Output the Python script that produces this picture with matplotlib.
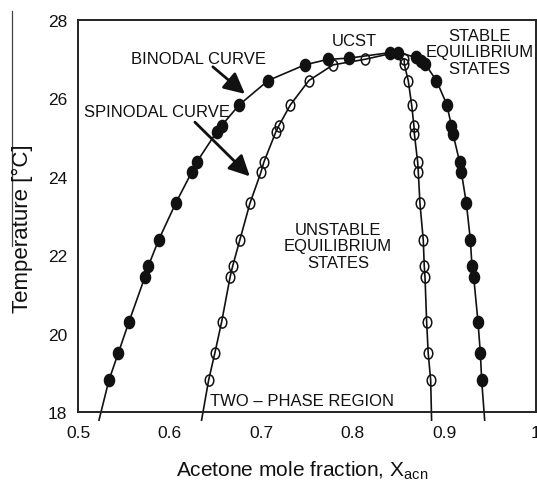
import matplotlib
matplotlib.use("Agg")
import matplotlib.pyplot as plt
import numpy as np
from matplotlib.lines import Line2D
from matplotlib.path import Path

plt.rcParams["font.family"] = ["Liberation Sans", "DejaVu Sans"]
plt.rcParams["mathtext.fontset"] = "custom"
plt.rcParams["mathtext.rm"] = "Liberation Sans"
plt.rcParams["mathtext.it"] = "Liberation Sans"

# binodal (filled) points
binodal_left_x = [0.5335, 0.5437, 0.5553, 0.5728, 0.5764, 0.5878, 0.6063, 0.6238, 0.6293,
                  0.6511, 0.6565, 0.6758, 0.7074, 0.7475, 0.7729, 0.7955, 0.8403, 0.8493]
binodal_left_T = [18.82, 19.51, 20.30, 21.45, 21.72, 22.39, 23.32, 24.11, 24.37,
                  25.14, 25.30, 25.83, 26.45, 26.85, 26.99, 27.02, 27.16, 27.16]
binodal_right_x = [0.8694, 0.8749, 0.8793, 0.8913, 0.9028, 0.9076, 0.9094, 0.9167, 0.9186,
                   0.9240, 0.9284, 0.9301, 0.9320, 0.9367, 0.9393, 0.9407]
binodal_right_T = [27.04, 26.96, 26.86, 26.45, 25.83, 25.30, 25.09, 24.37, 24.11,
                   23.32, 22.39, 21.72, 21.45, 20.30, 19.51, 18.82]

# spinodal (open) points
spinodal_left_x = [0.6424, 0.6492, 0.6566, 0.6659, 0.6686, 0.6765, 0.6875, 0.6995, 0.7027,
                   0.7158, 0.7191, 0.7317, 0.7519, 0.7784, 0.8130]
spinodal_left_T = [18.82, 19.51, 20.30, 21.45, 21.72, 22.39, 23.32, 24.11, 24.37,
                   25.14, 25.30, 25.83, 26.45, 26.85, 26.99]
spinodal_right_x = [0.8562, 0.8562, 0.8605, 0.8642, 0.8667, 0.8672, 0.8708, 0.8715, 0.8733,
                    0.8769, 0.8780, 0.8788, 0.8806, 0.8823, 0.8850]
spinodal_right_T = [26.99, 26.86, 26.45, 25.83, 25.30, 25.09, 24.37, 24.11, 23.32,
                    22.39, 21.72, 21.45, 20.30, 19.51, 18.82]

# where the fitted curves run out (below the axis) and where the spinodal meets the top
binodal_ends_x = [0.5226, 0.944]
binodal_ends_T = [17.8, 17.8]
spinodal_ends_x = [0.6347, 0.886]
spinodal_ends_T = [17.8, 17.8]
ucst_x, ucst_T = 0.842, 27.14

xticks = [0.5, 0.6, 0.7, 0.8, 0.9, 1.0]
xtick_labels = ["0.5", "0.6", "0.7", "0.8", "0.9", "1"]
yticks = [18, 20, 22, 24, 26, 28]


def ellipse_marker(ratio):
    c = Path.unit_circle()
    return Path(c.vertices * np.array([ratio, 1.0]), c.codes)


fig = plt.figure(figsize=(5.37, 4.81), dpi=100)
ax = fig.add_axes([0.1458, 0.1407, 0.8522, 0.8163])

ink = "#111111"
bin_line_x = [binodal_ends_x[0]] + binodal_left_x + binodal_right_x + [binodal_ends_x[1]]
bin_line_T = [binodal_ends_T[0]] + binodal_left_T + binodal_right_T + [binodal_ends_T[1]]
spi_line_x = [spinodal_ends_x[0]] + spinodal_left_x + [ucst_x] + spinodal_right_x + [spinodal_ends_x[1]]
spi_line_T = [spinodal_ends_T[0]] + spinodal_left_T + [ucst_T] + spinodal_right_T + [spinodal_ends_T[1]]

ax.plot(bin_line_x, bin_line_T, color=ink, lw=1.2, clip_on=False, zorder=2)
ax.plot(spi_line_x, spi_line_T, color=ink, lw=1.2, clip_on=False, zorder=2)

filled = ellipse_marker(0.83)
hollow = ellipse_marker(0.77)
ax.plot(binodal_left_x + binodal_right_x, binodal_left_T + binodal_right_T, ls="none",
        marker=filled, ms=8.8, mfc=ink, mec=ink, zorder=3)
ax.plot(spinodal_left_x + spinodal_right_x, spinodal_left_T + spinodal_right_T, ls="none",
        marker=hollow, ms=8.0, mfc="none", mec=ink, mew=1.1, zorder=3)

ax.set_xlim(0.5, 1.0)
ax.set_ylim(18, 28)
ax.set_xticks(xticks)
ax.set_xticklabels(xtick_labels)
ax.set_yticks(yticks)
ax.tick_params(axis="both", length=0, labelsize=12.5, colors=ink)
ax.tick_params(axis="x", pad=9)
ax.tick_params(axis="y", pad=8)
for sp in ax.spines.values():
    sp.set_linewidth(1.4)
    sp.set_color("#222222")

fs = 12
ax.text(0.6318, 27.0, "BINODAL CURVE", fontsize=fs, ha="center", va="center", color=ink)
ax.text(0.586, 25.65, "SPINODAL CURVE", fontsize=fs, ha="center", va="center", color=ink)
ax.text(0.802, 27.46, "UCST", fontsize=fs, ha="center", va="center", color=ink)
ax.text(0.9385, 27.18, "STABLE\nEQUILIBRIUM\nSTATES", fontsize=fs, ha="center", va="center",
        color=ink, linespacing=1.1)
ax.text(0.7836, 22.24, "UNSTABLE\nEQUILIBRIUM\nSTATES", fontsize=fs, ha="center", va="center",
        color=ink, linespacing=1.1)
ax.text(0.7445, 18.29, "TWO \u2013 PHASE REGION", fontsize=fs, ha="center", va="center", color=ink)

arrow = dict(arrowstyle="-|>,head_length=0.9,head_width=0.45", lw=2.0, color=ink,
             shrinkA=0, shrinkB=0, mutation_scale=14)
ax.annotate("", xy=(0.682, 26.11), xytext=(0.647, 26.80), arrowprops=arrow)
ax.annotate("", xy=(0.6874, 24.01), xytext=(0.6274, 25.39), arrowprops=arrow)

fig.text(302 / 537, 1 - 477 / 481, "Acetone mole fraction, X$_{\\mathrm{acn}}$",
         fontsize=15, ha="center", va="baseline", color=ink)
fig.text(22 / 537, 1 - 229 / 481, "Temperature [\u00b0C]", fontsize=16, rotation=90,
         ha="center", va="center", color=ink)
fig.add_artist(Line2D([12 / 537, 12 / 537], [1 - 12 / 481, 1 - 247 / 481],
                      color="#444444", lw=0.9))

fig.savefig("out.png", dpi=100)
